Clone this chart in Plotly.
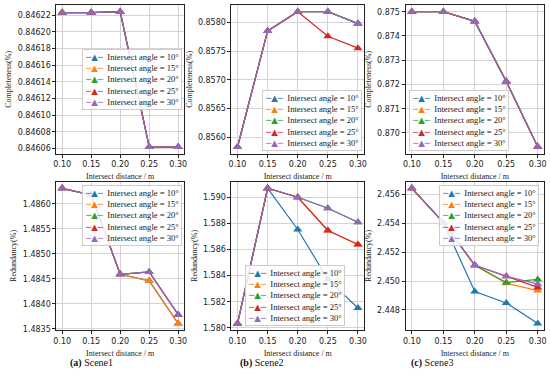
import plotly.graph_objects as go
from plotly.subplots import make_subplots

# ---------------- data ----------------
distance = [0.10, 0.15, 0.20, 0.25, 0.30]
angles = ["10°", "15°", "20°", "25°", "30°"]
colors = ["#1f77b4", "#ff7f0e", "#2ca02c", "#d62728", "#9467bd"]

# Completeness (%) per scene, per intersect angle
comp_s1_10 = [0.846223, 0.846223, 0.846224, 0.846062, 0.846062]
comp_s1_15 = [0.846223, 0.846223, 0.846224, 0.846062, 0.846062]
comp_s1_20 = [0.846223, 0.846223, 0.846224, 0.846062, 0.846062]
comp_s1_25 = [0.846223, 0.846223, 0.846224, 0.846062, 0.846062]
comp_s1_30 = [0.846223, 0.846223, 0.846224, 0.846062, 0.846062]

comp_s2_10 = [0.855826, 0.857855, 0.858191, 0.858191, 0.857983]
comp_s2_15 = [0.855826, 0.857855, 0.858191, 0.858191, 0.857983]
comp_s2_20 = [0.855826, 0.857855, 0.858191, 0.858191, 0.857983]
comp_s2_25 = [0.855826, 0.857855, 0.858191, 0.857762, 0.857554]
comp_s2_30 = [0.855826, 0.857855, 0.858191, 0.858191, 0.857983]

comp_s3_10 = [0.874998, 0.874998, 0.874592, 0.872112, 0.869420]
comp_s3_15 = [0.875000, 0.875000, 0.874609, 0.872129, 0.869434]
comp_s3_20 = [0.875000, 0.875000, 0.874609, 0.872129, 0.869434]
comp_s3_25 = [0.875000, 0.875000, 0.874609, 0.872129, 0.869434]
comp_s3_30 = [0.875000, 0.875000, 0.874609, 0.872129, 0.869434]

# Redundancy (%) per scene, per intersect angle
red_s1_10 = [1.486311, 1.486179, 1.484591, 1.484460, 1.483606]
red_s1_15 = [1.486311, 1.486179, 1.484591, 1.484460, 1.483606]
red_s1_20 = [1.486311, 1.486179, 1.484591, 1.484638, 1.483784]
red_s1_25 = [1.486311, 1.486179, 1.484591, 1.484638, 1.483784]
red_s1_30 = [1.486311, 1.486179, 1.484591, 1.484638, 1.483784]

red_s2_10 = [1.580331, 1.590687, 1.587532, 1.583715, 1.581527]
red_s2_15 = [1.580331, 1.590687, 1.590000, 1.587456, 1.586386]
red_s2_20 = [1.580331, 1.590687, 1.590000, 1.589160, 1.588092]
red_s2_25 = [1.580331, 1.590687, 1.590000, 1.587456, 1.586386]
red_s2_30 = [1.580331, 1.590687, 1.590000, 1.589160, 1.588092]

red_s3_10 = [2.456432, 2.454068, 2.449270, 2.448480, 2.447050]
red_s3_15 = [2.456432, 2.454068, 2.451090, 2.449850, 2.449340]
red_s3_20 = [2.456432, 2.454068, 2.451090, 2.449900, 2.450110]
red_s3_25 = [2.456432, 2.454068, 2.451090, 2.450340, 2.449560]
red_s3_30 = [2.456432, 2.454068, 2.451090, 2.450340, 2.449780]

panels = [
    # (row, col, series list, y title, tick values, tick format)
    (1, 1, [comp_s1_10, comp_s1_15, comp_s1_20, comp_s1_25, comp_s1_30], "Completeness(%)",
     [0.84606, 0.84608, 0.84610, 0.84612, 0.84614, 0.84616, 0.84618, 0.84620, 0.84622], ".5f"),
    (1, 2, [comp_s2_10, comp_s2_15, comp_s2_20, comp_s2_25, comp_s2_30], "Completeness(%)",
     [0.8560, 0.8565, 0.8570, 0.8575, 0.8580], ".4f"),
    (1, 3, [comp_s3_10, comp_s3_15, comp_s3_20, comp_s3_25, comp_s3_30], "Completeness(%)",
     [0.870, 0.871, 0.872, 0.873, 0.874, 0.875], ".3f"),
    (2, 1, [red_s1_10, red_s1_15, red_s1_20, red_s1_25, red_s1_30], "Redundancy(%)",
     [1.4835, 1.4840, 1.4845, 1.4850, 1.4855, 1.4860], ".4f"),
    (2, 2, [red_s2_10, red_s2_15, red_s2_20, red_s2_25, red_s2_30], "Redundancy(%)",
     [1.580, 1.582, 1.584, 1.586, 1.588, 1.590], ".3f"),
    (2, 3, [red_s3_10, red_s3_15, red_s3_20, red_s3_25, red_s3_30], "Redundancy(%)",
     [2.448, 2.450, 2.452, 2.454, 2.456], ".3f"),
]

captions = [("<b>(a)</b> Scene1", 89), ("<b>(b)</b> Scene2", 262), ("<b>(c)</b> Scene3", 434)]

# legend placement per panel: (x, y, xanchor, yanchor, xshift, yshift)
legend_pos = [
    (1, 0.5, "right", "middle", -2, 0),
    (1, 0, "right", "bottom", -2, 3),
    (0, 0, "left", "bottom", 3, 3),
    (1, 1, "right", "top", -2, -3),
    (0.48, 0, "center", "bottom", 0, 4),
    (1, 1, "right", "top", -5, -3),
]

W, H = 550, 375
SERIF = "Liberation Serif, Times New Roman, serif"
SANS = "DejaVu Sans, sans-serif"

fig = make_subplots(rows=2, cols=3)

x_dom = [(54, 183), (231, 365), (407, 547)]
y_dom = [(5, 155), (183, 333)]

for idx, (r, c, series, ytitle, tvals, tfmt) in enumerate(panels):
    for k, ys in enumerate(series):
        fig.add_trace(go.Scatter(
            x=distance, y=ys, mode="lines+markers",
            name="Intersect angle = " + angles[k],
            line=dict(color=colors[k], width=1.2),
            marker=dict(symbol="triangle-up", size=8, color=colors[k]),
            showlegend=False,
        ), row=r, col=c)
    allv = [v for s in series for v in s]
    lo, hi = min(allv), max(allv)
    pad = (hi - lo) * 0.05
    n = idx + 1
    xa = "xaxis" if n == 1 else f"xaxis{n}"
    ya = "yaxis" if n == 1 else f"yaxis{n}"
    xd = x_dom[c - 1]
    yd = y_dom[r - 1]
    axis_common = dict(
        showline=True, linecolor="#222222", linewidth=1, mirror=True,
        ticks="outside", ticklen=3, tickwidth=1, tickcolor="#222222",
        showgrid=True, gridcolor="#d4d4d4", gridwidth=1, zeroline=False,
        tickfont=dict(family=SANS, size=8, color="#222222"),
    )
    fig.layout[xa].update(
        domain=[xd[0] / W, xd[1] / W], range=[0.09, 0.31],
        tickvals=distance, tickformat=".2f",
        title=dict(text="Intersect distance / m", font=dict(family=SERIF, size=8, color="#222222"), standoff=5),
        **axis_common,
    )
    fig.layout[ya].update(
        domain=[(H - yd[1]) / H, (H - yd[0]) / H], range=[lo - pad, hi + pad],
        tickvals=tvals, tickformat=tfmt,
        title=dict(text=ytitle, font=dict(family=SERIF, size=8, color="#222222"), standoff=4),
        **axis_common,
    )
    # legend box as a text block anchored to the subplot's domain
    lines = []
    for k in range(5):
        lines.append(
            f'<span style="color:{colors[k]};font-family:DejaVu Sans">─▲─</span>'
            f"  Intersect angle = {angles[k]}"
        )
    lx, ly, xan, yan, xs, ys_ = legend_pos[idx]
    xref = "x domain" if n == 1 else f"x{n} domain"
    yref = "y domain" if n == 1 else f"y{n} domain"
    fig.add_annotation(
        xref=xref, yref=yref, x=lx, y=ly, xanchor=xan, yanchor=yan,
        xshift=xs, yshift=ys_, showarrow=False, align="left",
        text="<br>".join(lines),
        font=dict(family=SERIF, size=8.6, color="#222222"),
        bgcolor="rgba(255,255,255,0.85)", bordercolor="#cccccc", borderwidth=1, borderpad=2,
    )

for text, cx in captions:
    fig.add_annotation(
        xref="paper", yref="paper", x=cx / W, y=(H - 366) / H,
        xanchor="center", yanchor="middle", showarrow=False,
        text=text, font=dict(family=SERIF, size=10, color="#111111"),
    )

fig.update_layout(
    width=W, height=H,
    margin=dict(l=0, r=0, t=0, b=0),
    paper_bgcolor="white", plot_bgcolor="white",
    showlegend=False,
)

fig.write_html(
    "out.html",
    config={"displayModeBar": False},
    post_script="document.body.style.margin='0';document.body.style.overflow='hidden';",
)
